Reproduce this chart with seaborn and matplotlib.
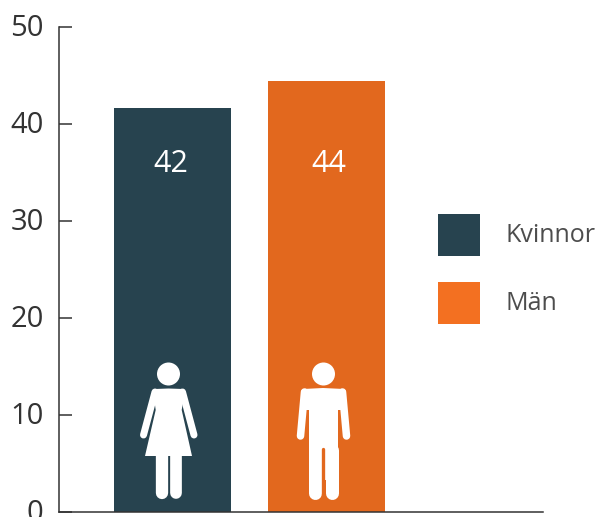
import matplotlib
matplotlib.use("Agg")
import matplotlib.pyplot as plt
import seaborn as sns
import pandas as pd
from matplotlib.lines import Line2D
from matplotlib.patches import Circle, Polygon, Rectangle
from matplotlib.transforms import Affine2D, ScaledTranslation

categories = ["Kvinnor", "Män"]
values = [41.6, 44.4]
value_labels = ["42", "44"]
bar_colors = ["#27434f", "#e2681e"]
legend_colors = ["#27434f", "#f37021"]
yticks = [0, 10, 20, 30, 40, 50]

W, H = 598, 517
sns.set_style("white")
plt.rcParams["font.family"] = ["Open Sans", "DejaVu Sans"]

fig = plt.figure(figsize=(W / 100, H / 100), dpi=100)
ax = fig.add_axes([58.5 / W, 1 - 512 / H, (543 - 58.5) / W, (512 - 27) / H])

df = pd.DataFrame({"group": categories, "value": values})
sns.barplot(data=df, x="group", y="value", hue="group", palette=bar_colors,
            width=0.76, saturation=1, legend=False, linewidth=0, ax=ax)

ax.set_xlim(-0.74, 2.406)
ax.set_ylim(0, 50)
ax.set_yticks(yticks)
ax.set_xticks([])
ax.set_xlabel("")
ax.set_ylabel("")
ax.tick_params(axis="y", direction="in", length=9.5, width=1.1, color="#333333",
               labelsize=21, labelcolor="#333333", pad=10.7, left=True)
sns.despine(ax=ax)
for side in ["left", "bottom"]:
    ax.spines[side].set_color("#333333")
    ax.spines[side].set_linewidth(1.1)
ax.spines["left"].set_zorder(5)

# tick labels sit a little above their ticks in the original
nudge = ScaledTranslation(0, 1.5 / 72, fig.dpi_scale_trans)
for lab in ax.get_yticklabels():
    lab.set_transform(lab.get_transform() + nudge)

for i, (lab, dx) in enumerate(zip(value_labels, [-1.5, 1.8])):
    ax.annotate(lab, (i, 35.9), xytext=(dx, 0), textcoords="offset points", color="white",
                fontsize=22, fontweight="medium", ha="center", va="center")

# everything below is placed in image pixels, origin top left
px = Affine2D().scale(1 / W, -1 / H).translate(0, 1) + fig.transFigure


def shape(artist):
    artist.set_transform(px)
    artist.set_clip_on(False)
    artist.set_zorder(4)
    fig.add_artist(artist)


def limb(xs, ys, width):
    shape(Line2D(xs, ys, color="white", lw=width * 0.72, solid_capstyle="round"))


# woman icon
shape(Circle((168.5, 374), 11.5, color="white", lw=0))
shape(Polygon([(153, 391), (155, 389), (168.5, 388.5), (183, 389), (185, 391), (181.7, 410),
               (192, 456), (145, 456), (155.7, 410)], color="white", lw=0))
limb([155, 143.5], [392, 435], 7)
limb([182.5, 194], [392, 435], 7)
limb([161.8, 161.8], [450, 493], 12.3)
limb([176.2, 176.2], [450, 493], 11.7)

# man icon
shape(Circle((323.5, 374), 11.5, color="white", lw=0))
shape(Polygon([(301, 391), (303, 389), (323, 388), (344, 389), (346, 391), (346, 410),
               (338, 410), (338, 480), (309, 480), (309, 410), (301, 410)],
              color="white", lw=0))
limb([304.5, 300.5], [392, 436], 7.5)
limb([342.5, 346.5], [392, 436], 7.5)
limb([315.2, 315.2], [450, 493], 13)
limb([331.7, 331.7], [450, 493], 13)
shape(Line2D([323.4, 323.4], [449, 500], color=bar_colors[1], lw=2.4, solid_capstyle="round"))

# legend
for y0, col, lab in zip([214, 282], legend_colors, categories):
    shape(Rectangle((438, y0), 42, 42, color=col, lw=0))
    fig.text(506 / W, 1 - (y0 + 22) / H, lab, color="#4d4d4d", fontsize=18,
             ha="left", va="center")

fig.savefig("out.png", dpi=100)
